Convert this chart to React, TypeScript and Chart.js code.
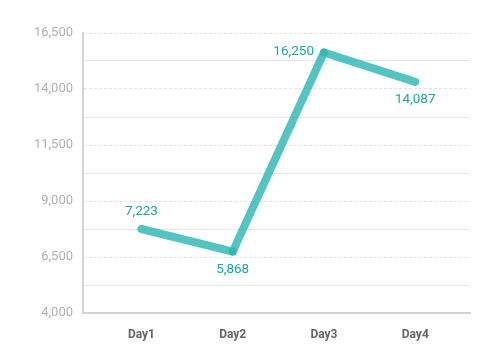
import React, { useEffect, useRef } from "react";
import { Chart, registerables } from "chart.js";

Chart.register(...registerables);

// Categories and data
const categories = ["Day1", "Day2", "Day3", "Day4"];
// Plotted positions
const plottedValues = [7750, 6740, 15630, 14320];
// Values printed as data labels
const labelValues = [7223, 5868, 16250, 14087];
// Y axis range / ticks
const yMin = 4000;
const yMax = 16500;
const yMajorStep = 2500;
const yMinorStep = 1250;

const LINE_COLOR = "rgba(40,181,177,0.8)";
const LABEL_COLOR = "#1ba7a5";
const FONT = "Roboto, 'Open Sans', sans-serif";

const labelPlacement = ["above", "below", "left", "below"];

const dataLabelPlugin = {
  id: "dataLabels",
  afterDatasetsDraw(chart: any) {
    const ctx = chart.ctx;
    const meta = chart.getDatasetMeta(0);
    ctx.save();
    ctx.fillStyle = LABEL_COLOR;
    ctx.font = `13.5px ${FONT}`;
    meta.data.forEach((pt: any, i: number) => {
      const text = labelValues[i].toLocaleString("en-US");
      const place = labelPlacement[i];
      let x = pt.x;
      let y = pt.y;
      ctx.textBaseline = "middle";
      if (place === "above") {
        ctx.textAlign = "center";
        y -= 17;
      } else if (place === "below") {
        ctx.textAlign = "center";
        y += 18;
      } else if (place === "left") {
        ctx.textAlign = "right";
        x -= 10;
        y -= 1;
      }
      ctx.fillText(text, x, y);
    });
    ctx.restore();
  },
};

export default function App() {
  const canvasRef = useRef<HTMLCanvasElement | null>(null);

  useEffect(() => {
    if (!canvasRef.current) return;
    const chart = new Chart(canvasRef.current, {
      type: "line",
      data: {
        datasets: [
          {
            data: plottedValues.map((v, i) => ({ x: i + 1, y: v })),
            borderColor: LINE_COLOR,
            backgroundColor: LINE_COLOR,
            borderWidth: 8,
            borderCapStyle: "round",
            borderJoinStyle: "round",
            pointRadius: plottedValues.map((_, i) =>
              i === 0 || i === plottedValues.length - 1 ? 0 : 4
            ),
            pointBorderWidth: 0,
            pointBackgroundColor: LINE_COLOR,
            tension: 0,
            fill: false,
          },
        ],
      },
      options: {
        animation: false,
        responsive: true,
        maintainAspectRatio: false,
        layout: { padding: { top: 33, right: 20, bottom: 0, left: 0 } },
        plugins: {
          legend: { display: false },
          tooltip: { enabled: false },
        },
        scales: {
          x: {
            type: "linear",
            min: 0.36,
            max: 4.6,
            afterBuildTicks: (scale: any) => {
              scale.ticks = categories.map((_, i) => ({ value: i + 1 }));
            },
            afterFit: (scale: any) => {
              scale.height = 47;
            },
            ticks: {
              autoSkip: false,
              padding: 15,
              color: "#666666",
              font: { family: FONT, size: 12, weight: "bold" },
              callback: (v: any) => categories[Math.round(v) - 1] ?? "",
            },
            grid: { display: false, drawTicks: false },
            border: { display: true, color: "#d3d3d3", width: 2 },
          },
          y: {
            type: "linear",
            position: "left",
            min: yMin,
            max: yMax,
            afterBuildTicks: (scale: any) => {
              const t: any[] = [];
              for (let v = yMin; v <= yMax; v += yMajorStep) t.push({ value: v });
              scale.ticks = t;
            },
            afterFit: (scale: any) => {
              scale.width = 83;
            },
            ticks: {
              padding: 10,
              color: "#b0b0b0",
              font: { family: FONT, size: 13 },
              callback: (v: any) => Number(v).toLocaleString("en-US"),
            },
            grid: { color: "#e2e2e2", lineWidth: 1, drawTicks: false },
            border: { display: true, color: "#d3d3d3", width: 2, dash: [3, 2] },
          },
          y2: {
            type: "linear",
            position: "right",
            min: yMin,
            max: yMax,
            afterBuildTicks: (scale: any) => {
              const t: any[] = [];
              for (let v = yMin; v <= yMax; v += yMinorStep) t.push({ value: v });
              scale.ticks = t;
            },
            afterFit: (scale: any) => {
              scale.width = 0;
            },
            ticks: { display: false },
            grid: {
              drawTicks: false,
              lineWidth: 1,
              color: (c: any) =>
                c.tick && (c.tick.value - yMin) % yMajorStep !== 0
                  ? "#e6e6e6"
                  : "rgba(0,0,0,0)",
            },
            border: { display: false },
          },
        },
      },
      plugins: [dataLabelPlugin],
    } as any);
    return () => chart.destroy();
  }, []);

  return (
    <div style={{ position: "fixed", left: 0, top: 0, width: 490, height: 360, background: "#fff" }}>
      <canvas ref={canvasRef} />
    </div>
  );
}
